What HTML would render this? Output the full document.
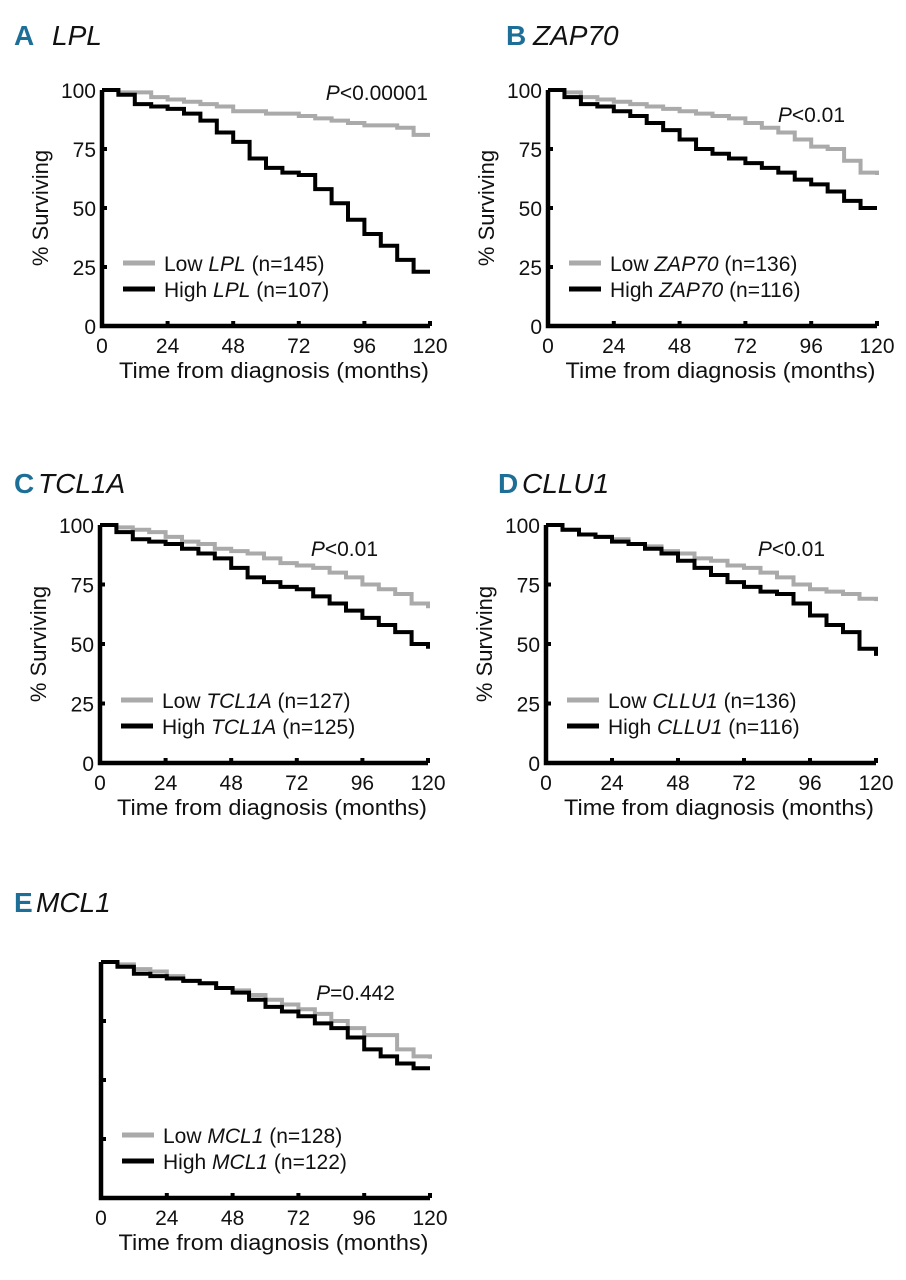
<!DOCTYPE html>
<html><head><meta charset="utf-8">
<style>
html,body{margin:0;padding:0;background:#fff;}
svg{display:block;font-family:"Liberation Sans Narrow","Liberation Sans",sans-serif;}
.lbl{font-size:21px;fill:#111;}
.ttl{font-size:22px;fill:#111;}
</style></head>
<body>
<svg id="fig" width="906" height="1280" viewBox="0 0 906 1280"></svg>
<script>
const xTicks = [0, 24, 48, 72, 96, 120];
const yTicks = [0, 25, 50, 75, 100];
const genes = ["LPL", "ZAP70", "TCL1A", "CLLU1", "MCL1"];
const letters = ["A", "B", "C", "D", "E"];
const pvals = ["<0.00001", "<0.01", "<0.01", "<0.01", "=0.442"];
const nLow = [145, 136, 127, 136, 128];
const nHigh = [107, 116, 125, 116, 122];
const months = [0,6,12,18,24,30,36,42,48,54,60,66,72,78,84,90,96,102,108,114,120];
const lowSurv = [
 [100,99,99,97,96,95,94,93,91,91,90,90,89,88,87,86,85,85,84,81,81],
 [100,99,97,96,95,94,93,92,91,90,89,88,86,84,82,79,76,75,70,65,64],
 [100,99,98,97,95,93,92,90,89,88,86,84,83,82,80,78,75,73,71,67,65],
 [100,98,96,95,94,92,91,89,88,86,85,83,82,80,78,75,73,72,71,69,68],
 [100,99,97,96,94,92,91,89,88,86,84,82,80,78,75,72,69,69,63,60,59]
];
const highSurv = [
 [100,98,94,93,92,90,87,82,78,71,67,65,64,58,52,45,39,34,28,23,23],
 [100,97,94,93,91,89,86,83,79,75,73,71,69,67,65,62,60,57,53,50,50],
 [100,97,94,93,92,90,88,86,82,78,76,74,73,70,67,64,61,58,55,50,48],
 [100,98,96,95,93,92,90,88,85,82,79,76,74,72,71,67,62,58,55,48,45],
 [100,98,95,94,93,92,91,89,87,84,81,79,77,74,72,68,63,60,57,55,55]
];
// layout (not data)
const panels = [
 {x0:102,x1:430,yt:90,yb:326,tx:14,ty:45,gx:52,px:428,py:100,yl:true},
 {x0:548,x1:877,yt:90,yb:326,tx:506,ty:45,gx:533,px:845,py:122,yl:true},
 {x0:100,x1:428,yt:525,yb:763,tx:14,ty:493,gx:38,px:378,py:556,yl:true},
 {x0:546,x1:876,yt:525,yb:763,tx:498,ty:493,gx:522,px:825,py:556,yl:true},
 {x0:101,x1:430,yt:962,yb:1198,tx:14,ty:912,gx:36,px:395,py:1000,yl:false}
];
const NS="http://www.w3.org/2000/svg";
const svg=document.getElementById('fig');
function mk(tag,attrs,parent){const e=document.createElementNS(NS,tag);for(const k in attrs)e.setAttribute(k,attrs[k]);(parent||svg).appendChild(e);return e;}
panels.forEach((p,i)=>{
 const g=mk('g',{});
 
 
 const sx=t=>p.x0+(t/120)*(p.x1-p.x0);
 const sy=v=>p.yb-(v/100)*(p.yb-p.yt);
 const tl=mk('text',{x:p.tx,y:p.ty,'font-size':28,'font-weight':'bold',fill:'#1d6f98'},g);
 tl.textContent=letters[i];
 
 
 const tg=mk('text',{x:p.gx,y:p.ty,'font-size':28,'font-style':'italic',fill:'#111'},g);
 tg.textContent=genes[i];
 
 
 function path(ts,vs){let d='M'+sx(ts[0])+','+sy(vs[0]);for(let k=1;k<ts.length;k++){d+=' H'+sx(ts[k])+' V'+sy(vs[k]);}return d;}
 const lo=mk('path',{d:path(months,lowSurv[i]),fill:'none',stroke:'#aaaaaa','stroke-width':4},g);
 
 
 const hi=mk('path',{d:path(months,highSurv[i]),fill:'none',stroke:'#000','stroke-width':4},g);
 
 
 const ax=mk('path',{d:`M${p.x0},${p.yt} V${p.yb} H${p.x1}`,fill:'none',stroke:'#000','stroke-width':4.5},g);
 
 
 xTicks.forEach(t=>{
  const tk=mk('line',{x1:sx(t),x2:sx(t),y1:p.yb,y2:p.yb-5,stroke:'#000','stroke-width':4},g);
  
  
  const tx=mk('text',{x:sx(t),y:p.yb+27,'text-anchor':'middle',class:'lbl'},g);
  tx.textContent=t;
  
  
 });
 yTicks.forEach(v=>{
  const tk=mk('line',{x1:p.x0,x2:p.x0+5,y1:sy(v),y2:sy(v),stroke:'#000','stroke-width':4},g);
  
  
  if(p.yl){
   const ty=mk('text',{x:p.x0-6,y:sy(v)+8,'text-anchor':'end',class:'lbl'},g);
   ty.textContent=v;
   
   
  }
 });
 const xt=mk('text',{x:(p.x0+p.x1)/2+8,y:p.yb+52,'text-anchor':'middle',class:'ttl',textLength:310,lengthAdjust:'spacingAndGlyphs'},g);
 xt.textContent='Time from diagnosis (months)';
 
 
 if(p.yl){
  const yx=p.x0-54, yy=(p.yt+p.yb)/2;
  const yt=mk('text',{x:yx,y:yy,'text-anchor':'middle',class:'ttl',transform:`rotate(-90 ${yx} ${yy})`},g);
  yt.textContent='% Surviving';
  
  
 }
 const pt=mk('text',{x:p.px,y:p.py,'text-anchor':'end',class:'lbl'},g);
 pt.innerHTML='<tspan font-style="italic">P</tspan>'+pvals[i].replace('<','&lt;');
 
 
 const ly1=p.yb-63, ly2=p.yb-37;
 [[ly1,'#aaaaaa','Low',nLow[i]],[ly2,'#000','High',nHigh[i]]].forEach(([ly,c,lab,n])=>{
  const ll=mk('line',{x1:p.x0+21,x2:p.x0+53,y1:ly,y2:ly,stroke:c,'stroke-width':5},g);
  
  
  const lt=mk('text',{x:p.x0+62,y:ly+8,class:'lbl'},g);
  lt.innerHTML=lab+' <tspan font-style="italic">'+genes[i]+'</tspan> (n='+n+')';
  
  
 });
});
</script>
</body></html>
